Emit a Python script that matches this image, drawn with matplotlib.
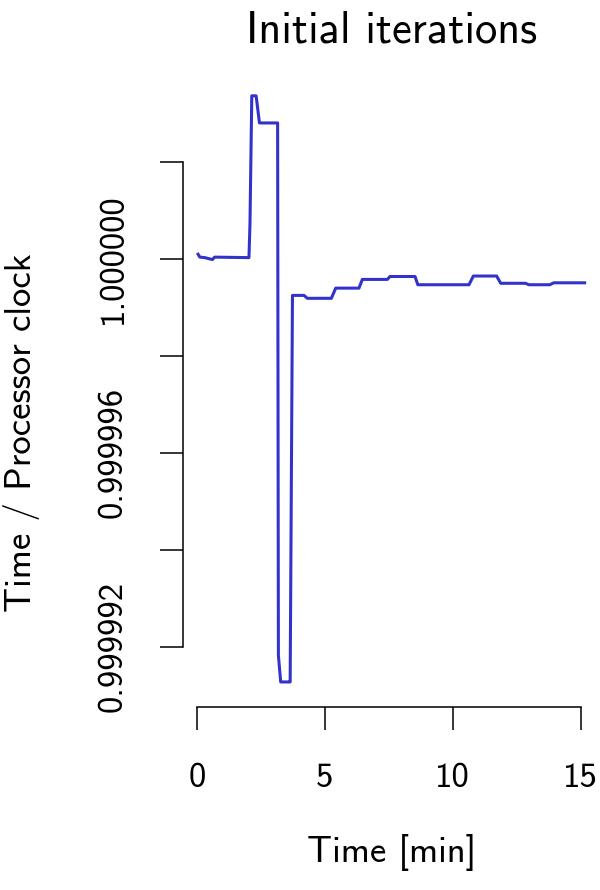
import matplotlib
matplotlib.use("Agg")
import matplotlib.pyplot as plt

plt.rcParams['font.family'] = ['cmss10', 'DejaVu Sans']
plt.rcParams['axes.formatter.use_mathtext'] = True

# time in minutes and ratio time / processor clock
t_min = [0.05, 0.12, 0.31, 0.61, 0.70, 2.04, 2.08, 2.15, 2.32, 2.45, 3.16,
         3.19, 3.28, 3.61, 3.65, 3.74, 4.19, 4.32, 5.26, 5.43, 6.34, 6.47,
         7.45, 7.55, 8.53, 8.64, 10.64, 10.81, 11.72, 11.88, 12.85, 12.98,
         13.80, 13.95, 15.16]
ratio = [1.00000010, 1.00000004, 1.00000003, 0.99999999, 1.00000004,
         1.00000003, 1.00000074, 1.00000337, 1.00000337, 1.00000281,
         1.00000281, 0.99999182, 0.99999127, 0.99999127, 0.99999127,
         0.99999925, 0.99999925, 0.99999919, 0.99999919, 0.99999940,
         0.99999940, 0.99999958, 0.99999958, 0.99999964, 0.99999964,
         0.99999947, 0.99999947, 0.99999965, 0.99999965, 0.99999950,
         0.99999950, 0.99999947, 0.99999947, 0.99999951, 0.99999951]

x_ticks = [0, 5, 10, 15]
y_ticks = [0.999992, 0.999994, 0.999996, 0.999998, 1.000000, 1.000002]
y_labels = ['0.999992', '', '0.999996', '', '1.000000', '']

fig = plt.figure(figsize=[6, 8.9], dpi=100)
ax = fig.add_axes([0.3045, 0.206, 0.6955, 0.713])
ax.plot(t_min, ratio, color='#3333cc', linewidth=2.2)

ax.spines['top'].set_visible(False)
ax.spines['right'].set_visible(False)
ax.spines['left'].set_bounds(y_ticks[0], y_ticks[-1])
ax.spines['bottom'].set_bounds(x_ticks[0], x_ticks[-1])
for s in ['left', 'bottom']:
    ax.spines[s].set_linewidth(1.1)

ax.set_yticks(y_ticks)
ax.set_yticklabels(y_labels, rotation=90, va='center')
ax.set_xticks(x_ticks)
ax.set_xticklabels([str(v) for v in x_ticks])
ax.set_xlim(-0.55, 15.76)
ax.set_ylim(1 - 9.24e-6, 1 + 3.86e-6)

ax.tick_params(axis='both', direction='out', length=16.6, width=1.1,
               labelsize=25)
ax.tick_params(axis='x', pad=24)
ax.tick_params(axis='y', pad=22)

ax.set_xlabel('Time [min]', fontsize=26.5, labelpad=29)
ax.set_ylabel('Time / Processor clock', fontsize=26.5)
ax.yaxis.set_label_coords(-0.342, 0.431)
ax.set_title('Initial iterations', fontsize=32, pad=21)

plt.savefig('out.png', dpi=100)
